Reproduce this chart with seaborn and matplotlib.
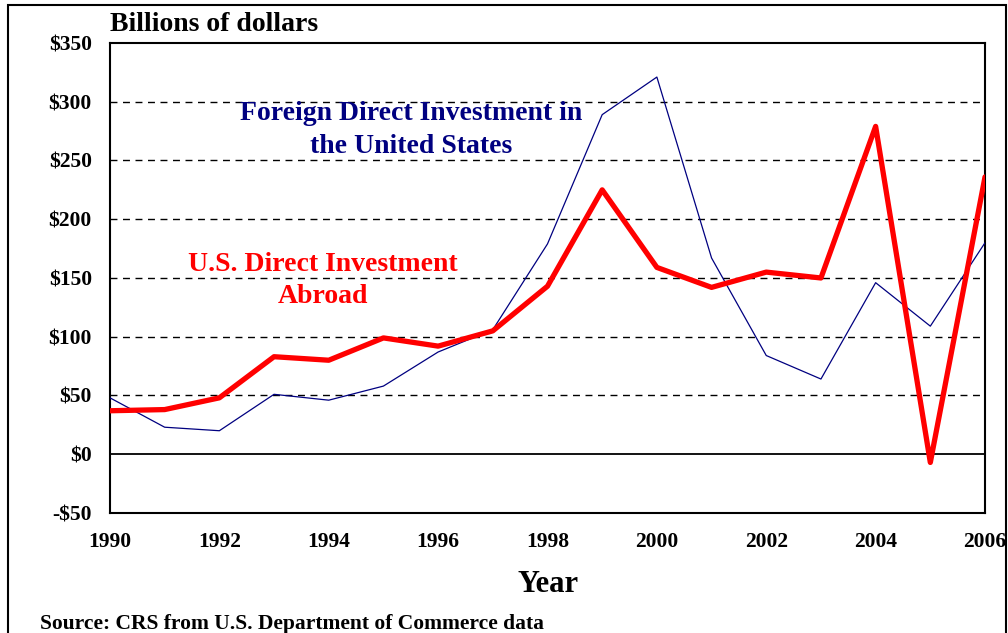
import numpy as np
import pandas as pd
import matplotlib
matplotlib.use("Agg")
import matplotlib.pyplot as plt
from matplotlib.patches import Rectangle
import seaborn as sns

# data (billions of dollars)
years = list(range(1990, 2007))
us_abroad = [37, 38, 48, 83, 80, 99, 92, 105, 143, 225, 159, 142, 155, 150, 279, -7, 236]
fdi_in_us = [48, 23, 20, 51, 46, 58, 87, 106, 179, 289, 321, 167, 84, 64, 146, 109, 180]
y_ticks = [-50, 0, 50, 100, 150, 200, 250, 300, 350]
y_labels = ["-$50", "$0", "$50", "$100", "$150", "$200", "$250", "$300", "$350"]
x_ticks = list(range(1990, 2007, 2))

sns.set_style("white")
plt.rcParams['font.family'] = ['Liberation Serif', 'DejaVu Serif']
plt.rcParams['font.weight'] = 'bold'
plt.rcParams['text.color'] = 'black'
plt.rcParams['xtick.color'] = 'black'
plt.rcParams['ytick.color'] = 'black'

df = pd.DataFrame({"Year": years, "US": us_abroad, "FDI": fdi_in_us})

fig = plt.figure(figsize=(10.08, 6.33), dpi=100)
ax = fig.add_axes([0.1091, 0.1896, 0.8681, 0.7425])

# gridlines
for v in [50, 100, 150, 200, 250, 300]:
    ax.axhline(v, color="black", linestyle=(0, (5, 4)), lw=1.0, zorder=1)
ax.axhline(0, color="black", lw=1.3, zorder=1)

sns.lineplot(data=df, x="Year", y="FDI", color="#000080", lw=0.9, ax=ax, zorder=3)
sns.lineplot(data=df, x="Year", y="US", color="#ff0000", lw=3.8, ax=ax, zorder=4)

ax.set_xlim(1990, 2006)
ax.set_ylim(-50, 350)
ax.set_xticks(x_ticks)
ax.set_xticklabels([str(x) for x in x_ticks], fontsize=15.5, fontweight="bold")
ax.set_yticks(y_ticks)
ax.set_yticklabels(y_labels, fontsize=15.5, fontweight="bold")
ax.tick_params(axis="both", length=0)
ax.tick_params(axis="y", pad=13)
ax.tick_params(axis="x", pad=14)
ax.set_xlabel("")
ax.set_ylabel("")
for s in ax.spines.values():
    s.set_color("black")
    s.set_linewidth(1.5)

ax.text(1995.5, 276, "Foreign Direct Investment in\nthe United States", color="#000080",
        fontsize=20, fontweight="bold", ha="center", va="center", linespacing=1.4)
ax.text(1993.9, 148, "U.S. Direct Investment\nAbroad", color="#ff0000",
        fontsize=20, fontweight="bold", ha="center", va="center", linespacing=1.4)

fig.text(0.109, 0.961, "Billions of dollars", fontsize=20, fontweight="bold",
         ha="left", va="center")
fig.text(0.544, 0.076, "Year", fontsize=22, fontweight="bold", ha="center", va="center")
fig.text(0.040, 0.015, "Source: CRS from U.S. Department of Commerce data",
         fontsize=15.5, fontweight="bold", ha="left", va="center")

# outer frame around the whole graphic
fig.patches.append(Rectangle((8 / 1008, -0.02), 998 / 1008, 1.02 - 5 / 633,
                             transform=fig.transFigure, fill=False,
                             edgecolor="black", lw=1.5))

fig.savefig("out.png", dpi=100)
